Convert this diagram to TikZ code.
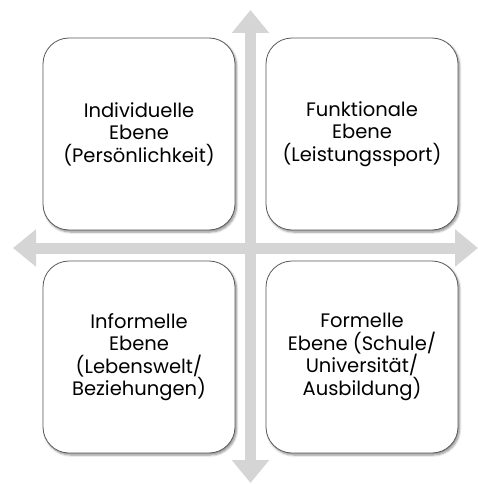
\documentclass[tikz,border=0pt]{standalone}
\usepackage{fontspec}
\setmainfont{Poppins}
\usetikzlibrary{arrows.meta, shadows.blur}

\begin{document}
\begin{tikzpicture}[x=1pt, y=-1pt]
\tikzset{
  ebene/.style={draw=gray!70!black, line width=0.8pt, fill=white,
    rounded corners=26pt, minimum width=192pt, minimum height=192pt,
    align=center, font=\fontsize{19.5}{22.5}\selectfont,
    blur shadow={shadow xshift=1.5pt, shadow yshift=-2pt,
      shadow blur steps=6, shadow opacity=45}},
  achse/.style={line width=11pt, draw=gray!33,
    {Triangle[length=23pt,width=36pt]}-{Triangle[length=23pt,width=36pt]}}
}
\useasboundingbox (0,0) rectangle (478,484);

% Ends of the two axes
\coordinate (oben) at (250.5,10);
\coordinate (unten) at (250.5,483);
\coordinate (links) at (13,248);
\coordinate (rechts) at (478,248);

% Axes
\draw[achse] (links) -- (rechts);
\draw[achse] (oben) -- (unten);

% Four levels
\node[ebene] (individuell) at (139,134) {Individuelle\\Ebene\\(Persönlichkeit)};
\node[ebene] (funktional) at (362,134) {Funktionale\\Ebene\\(Leistungssport)};
\node[ebene] (informell) at (139,357) {Informelle\\Ebene\\(Lebenswelt/\\Beziehungen)};
\node[ebene] (formell) at (362,357) {Formelle\\Ebene (Schule/\\Universität/\\Ausbildung)};

\end{tikzpicture}
\end{document}
